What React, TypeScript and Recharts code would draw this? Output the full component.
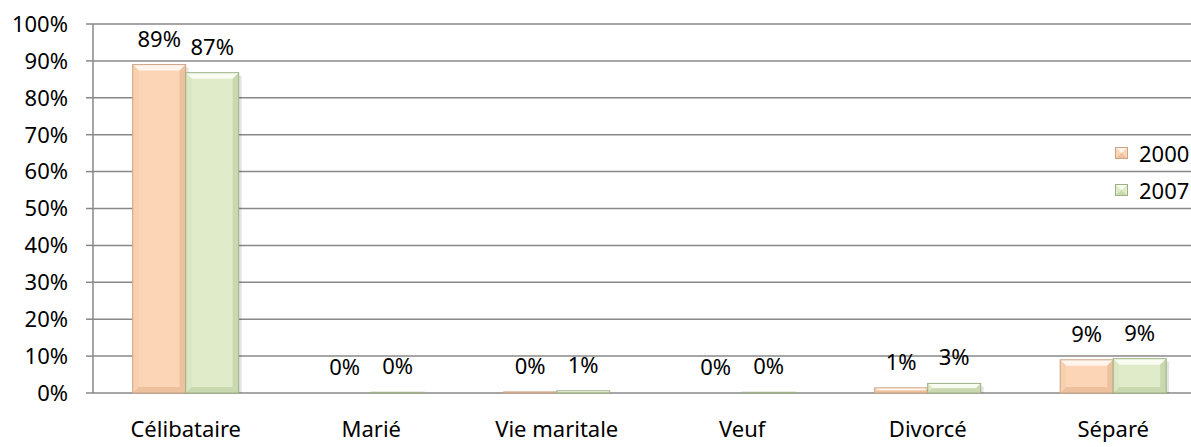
import { BarChart, Bar, XAxis, YAxis, CartesianGrid, Legend, LabelList } from "recharts";

const categories = ["Célibataire", "Marié", "Vie maritale", "Veuf", "Divorcé", "Séparé"];
const values2000 = [89, 0, 0.3, 0, 1.4, 9.0];
const values2007 = [86.8, 0.2, 0.6, 0.2, 2.6, 9.3];
const yTicks = [0, 10, 20, 30, 40, 50, 60, 70, 80, 90, 100];
const boundaryTicks = [0, 1, 2, 3, 4, 5, 6];

const data = categories.map((name, i) => ({ name, y2000: values2000[i], y2007: values2007[i] }));

const FONT = "'Noto Sans', 'Open Sans', sans-serif";
const GRID = "#888888";

type Pal = { face: string; light: string; side: string; dark: string; edge: string };
const ORANGE: Pal = { face: "#FBD5B6", light: "#FFF5EC", side: "#F8D0AE", dark: "#EDC19E", edge: "#CBA486" };
const GREEN: Pal = { face: "#DFEBC9", light: "#F8FCF1", side: "#DAE7C2", dark: "#C9D8AE", edge: "#9DB085" };

function BevelBar(props: any) {
  const { x, y, width, height, pal } = props;
  if (!height || height <= 0) return null;
  const w = width;
  const h = height;
  const b = Math.min(6, h / 2, w / 4);
  return (
    <g>
      <rect x={x + w} y={y + 3} width={3} height={Math.max(h - 3, 0)} fill="#000" opacity={0.1} />
      <rect x={x} y={y} width={w} height={h} fill={pal.face} />
      <polygon points={`${x},${y} ${x + w},${y} ${x + w - b},${y + b} ${x + b},${y + b}`} fill={pal.light} />
      <polygon points={`${x},${y} ${x + b},${y + b} ${x + b},${y + h - b} ${x},${y + h}`} fill={pal.side} />
      <polygon points={`${x + w},${y} ${x + w - b},${y + b} ${x + w - b},${y + h - b} ${x + w},${y + h}`} fill={pal.dark} />
      <polygon points={`${x},${y + h} ${x + b},${y + h - b} ${x + w - b},${y + h - b} ${x + w},${y + h}`} fill={pal.dark} />
      <rect x={x} y={y} width={w} height={h} fill="none" stroke={pal.edge} strokeWidth={1} />
    </g>
  );
}

function LegendIcon({ pal }: { pal: Pal }) {
  return (
    <svg width={13} height={12} style={{ marginRight: 11 }}>
      <rect x={0} y={0} width={13} height={12} fill={pal.face} />
      <polygon points="0,0 13,0 6.5,6" fill={pal.light} />
      <polygon points="0,12 13,12 6.5,6" fill={pal.dark} />
      <rect x={0.5} y={0.5} width={12} height={11} fill="none" stroke={pal.edge} />
    </svg>
  );
}

function LegendBox() {
  const items = [
    { label: "2000", pal: ORANGE },
    { label: "2007", pal: GREEN },
  ];
  return (
    <div style={{ fontFamily: FONT, fontSize: 22, color: "#000" }}>
      {items.map((it) => (
        <div key={it.label} style={{ display: "flex", alignItems: "center", height: 37.5 }}>
          <LegendIcon pal={it.pal} />
          <span>{it.label}</span>
        </div>
      ))}
    </div>
  );
}

const pct = (v: any) => `${Math.round(Number(v))}%`;

export default function App() {
  return (
    <div style={{ position: "fixed", left: 0, top: 0, width: 1191, height: 447, overflow: "hidden", background: "#fff" }}>
      <BarChart
        width={1206}
        height={447}
        data={data}
        margin={{ top: 24, right: 0, bottom: 0, left: 0 }}
        barCategoryGap="21.4%"
        barGap={0}
      >
        <CartesianGrid vertical={false} stroke={GRID} strokeWidth={1.5} />
        <XAxis
          xAxisId="b"
          type="number"
          domain={[0, 6]}
          ticks={boundaryTicks}
          height={0}
          tickSize={7}
          tickFormatter={() => ""}
          stroke={GRID}
          strokeWidth={1.5}
        />
        <XAxis
          dataKey="name"
          height={54}
          axisLine={false}
          tickLine={false}
          tickMargin={22}
          tick={{ fill: "#000", fontSize: 22, fontFamily: FONT }}
          interval={0}
        />
        <YAxis
          width={93}
          domain={[0, 100]}
          ticks={yTicks}
          tickFormatter={(v) => `${v}%`}
          tickSize={7}
          tickMargin={18}
          stroke={GRID}
          strokeWidth={1.5}
          tick={{ fill: "#000", fontSize: 22, fontFamily: FONT }}
        />
        <Legend
          layout="vertical"
          align="center"
          verticalAlign="middle"
          content={() => <LegendBox />}
          wrapperStyle={{ left: 1115, top: 134, width: 120 }}
        />
        <Bar dataKey="y2000" name="2000" isAnimationActive={false} fill={ORANGE.face} shape={(p: any) => <BevelBar {...p} pal={ORANGE} />}>
          <LabelList dataKey="y2000" position="top" offset={18} formatter={pct} style={{ fill: "#000", fontSize: 22, fontFamily: FONT }} />
        </Bar>
        <Bar dataKey="y2007" name="2007" isAnimationActive={false} fill={GREEN.face} shape={(p: any) => <BevelBar {...p} pal={GREEN} />}>
          <LabelList dataKey="y2007" position="top" offset={18} formatter={pct} style={{ fill: "#000", fontSize: 22, fontFamily: FONT }} />
        </Bar>
      </BarChart>
    </div>
  );
}
